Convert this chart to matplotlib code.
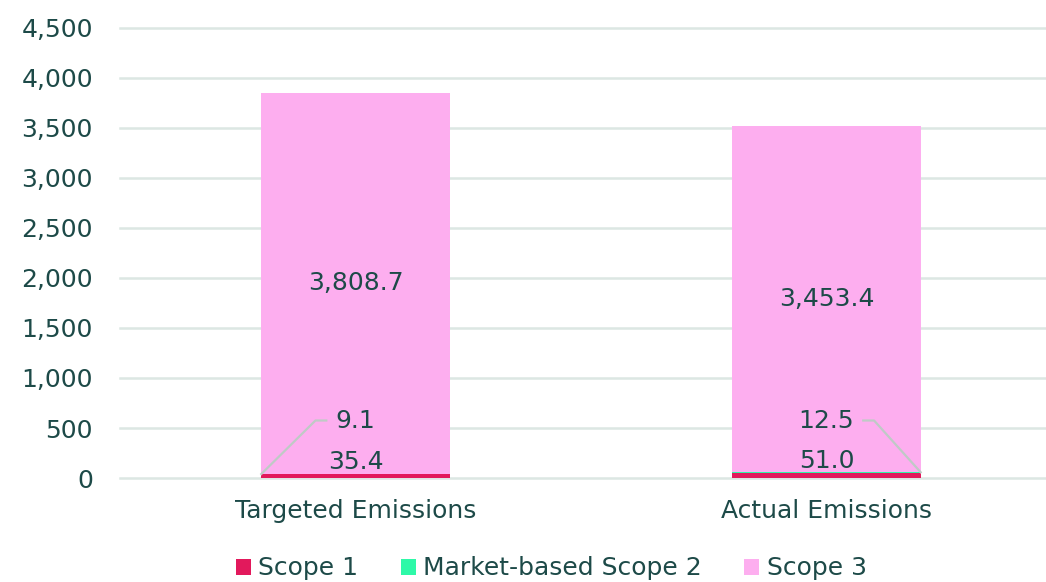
import matplotlib
matplotlib.use("Agg")
from matplotlib import pyplot as plt
from matplotlib.ticker import FuncFormatter
from matplotlib.patches import Patch

# data
categories = ["Targeted Emissions", "Actual Emissions"]
scope1 = [35.4, 51.0]
scope2 = [9.1, 12.5]
scope3 = [3808.7, 3453.4]
series_names = ["Scope 1", "Market-based Scope 2", "Scope 3"]
yticks = [0, 500, 1000, 1500, 2000, 2500, 3000, 3500, 4000, 4500]

# styling
colors = ["#E2195C", "#2EF9A8", "#FDAEEF"]
textColor = "#1D4A48"
gridColor = "#DCE7E3"
leaderColor = "#BFCAC6"
fontSize = 18
plt.rcParams['font.family'] = ['DejaVu Sans']

W, H = 1046, 582
fig = plt.figure(figsize=(W / 100.0, H / 100.0), dpi=100)
ax = fig.add_axes([120.0 / W, 104.0 / H, 942.0 / W, 450.0 / H])

x = list(range(len(categories)))
barWidth = 0.4
bottom2 = [a for a in scope1]
bottom3 = [a + b for a, b in zip(scope1, scope2)]
ax.bar(x, scope1, width=barWidth, color=colors[0], zorder=3)
ax.bar(x, scope2, width=barWidth, bottom=bottom2, color=colors[1], zorder=3)
ax.bar(x, scope3, width=barWidth, bottom=bottom3, color=colors[2], zorder=3)

ax.set_xlim(-0.5, 1.5)
ax.set_ylim(0, 4500)
ax.set_yticks(yticks)
ax.yaxis.set_major_formatter(FuncFormatter(lambda v, p: "{:,.0f}".format(v)))
ax.set_xticks(x)
ax.set_xticklabels(categories)
ax.tick_params(axis='both', length=0, labelsize=fontSize, colors=textColor)
ax.tick_params(axis='y', pad=19.5)
ax.tick_params(axis='x', pad=15)
ax.grid(axis='y', color=gridColor, linewidth=1.8, zorder=0)
for gl in ax.get_ygridlines():
    gl.set_clip_on(False)
for s in ax.spines.values():
    s.set_visible(False)

# scope 3 labels, centred in segment
for i in x:
    ax.text(i, bottom3[i] + scope3[i] / 2.0, "{:,.1f}".format(scope3[i]),
            ha='center', va='center', fontsize=fontSize, color=textColor, zorder=5)

# scope 1 labels just above the base
for i in x:
    ax.text(i, scope1[i] + 2, "{:,.1f}".format(scope1[i]),
            ha='center', va='bottom', fontsize=fontSize, color=textColor, zorder=5)

# scope 2 labels with leader lines
labelY = 575
for i in x:
    ax.text(i, labelY, "{:,.1f}".format(scope2[i]),
            ha='center', va='center', fontsize=fontSize, color=textColor, zorder=5)
segMid = [bottom2[i] + scope2[i] / 2.0 for i in x]
# left leader for first bar, right leader for second
ax.plot([-barWidth / 2, -0.085, -0.062], [segMid[0], labelY, labelY],
        color=leaderColor, linewidth=1.6, zorder=4)
ax.plot([1 + barWidth / 2, 1.101, 1.078], [segMid[1], labelY, labelY],
        color=leaderColor, linewidth=1.6, zorder=4)

handles = [Patch(facecolor=c, edgecolor='none') for c in colors]
leg = fig.legend(handles, series_names, loc='lower center', bbox_to_anchor=(0.527, -0.036),
                 ncol=3, frameon=False, fontsize=fontSize, handlelength=0.6,
                 handleheight=0.6, handletextpad=0.3, columnspacing=1.7)
for t in leg.get_texts():
    t.set_color(textColor)

plt.savefig("out.png", dpi=100)
